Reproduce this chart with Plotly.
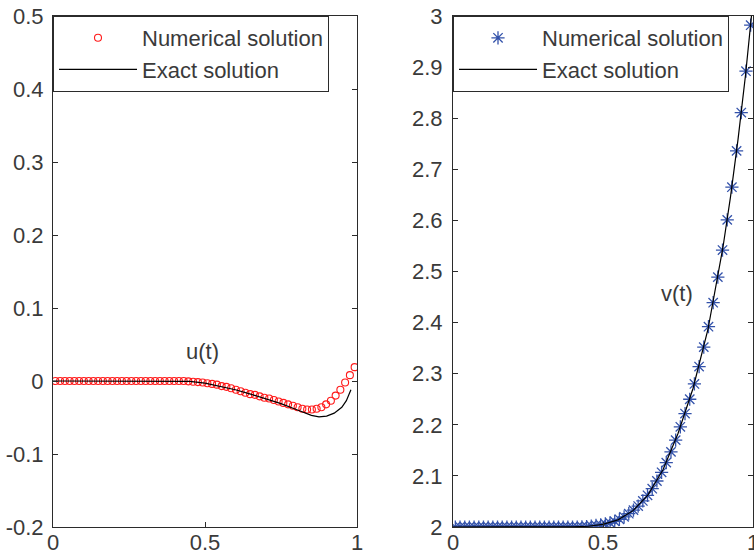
import plotly.graph_objects as go

# collocation points (numerical solution)
t_num = [0.0078, 0.0234, 0.0391, 0.0547, 0.0703, 0.0859, 0.1016, 0.1172,
         0.1328, 0.1484, 0.1641, 0.1797, 0.1953, 0.2109, 0.2266, 0.2422,
         0.2578, 0.2734, 0.2891, 0.3047, 0.3203, 0.3359, 0.3516, 0.3672,
         0.3828, 0.3984, 0.4141, 0.4297, 0.4453, 0.4609, 0.4766, 0.4922,
         0.5078, 0.5234, 0.5391, 0.5547, 0.5703, 0.5859, 0.6016, 0.6172,
         0.6328, 0.6484, 0.6641, 0.6797, 0.6953, 0.7109, 0.7266, 0.7422,
         0.7578, 0.7734, 0.7891, 0.8047, 0.8203, 0.8359, 0.8516, 0.8672,
         0.8828, 0.8984, 0.9141, 0.9297, 0.9453, 0.9609, 0.9766, 0.9922]

u_num = [0, 0, 0, 0, 0, 0, 0, 0, 0, 0, 0, 0, 0, 0, 0, 0, 0, 0, 0, 0,
         0, 0, 0, 0, 0, 0, 0, 0,
         -0.0005, -0.001, -0.0015, -0.002, -0.003, -0.004, -0.005, -0.007,
         -0.008, -0.010, -0.012, -0.014, -0.016, -0.018, -0.019, -0.021,
         -0.023, -0.024, -0.026, -0.028, -0.030, -0.032, -0.034, -0.036,
         -0.038, -0.039, -0.039, -0.038, -0.036, -0.032, -0.027, -0.020,
         -0.012, -0.002, 0.008, 0.019]

v_num = [2.0, 2.0, 2.0, 2.0, 2.0, 2.0, 2.0, 2.0, 2.0, 2.0, 2.0, 2.0, 2.0,
         2.0, 2.0, 2.0, 2.0, 2.0, 2.0, 2.0, 2.0, 2.0, 2.0, 2.0, 2.0, 2.0, 2.0,
         2.0005, 2.001, 2.002, 2.003, 2.004, 2.006, 2.008, 2.011, 2.015,
         2.020, 2.026, 2.033, 2.041, 2.051, 2.062, 2.075, 2.090, 2.107,
         2.126, 2.147, 2.170, 2.196, 2.222, 2.250, 2.280, 2.314, 2.352,
         2.392, 2.439, 2.489, 2.542, 2.601, 2.665, 2.736, 2.811, 2.892, 2.982]

# exact solutions
t_u_exact = [0, 0.1, 0.2, 0.3, 0.4, 0.45, 0.5, 0.55, 0.6, 0.65, 0.7, 0.75,
             0.8, 0.825, 0.85, 0.875, 0.9, 0.925, 0.95, 0.965, 0.98]
u_exact = [0, 0, 0, 0, 0, -0.0005, -0.003, -0.007, -0.012, -0.018, -0.024,
           -0.031, -0.039, -0.043, -0.047, -0.049, -0.048, -0.044, -0.036,
           -0.027, -0.012]

t_v_exact = [0, 0.1, 0.2, 0.3, 0.4, 0.45, 0.5, 0.55, 0.6, 0.65, 0.7, 0.75,
             0.8, 0.85, 0.9, 0.925, 0.95, 0.975, 1.0]
v_exact = [2.0, 2.0, 2.0, 2.0, 2.0003, 2.0015, 2.005, 2.014, 2.032, 2.063,
           2.112, 2.183, 2.271, 2.387, 2.548, 2.646, 2.758, 2.884, 3.03]

u_ticks = [-0.2, -0.1, 0, 0.1, 0.2, 0.3, 0.4, 0.5]
u_ticktext = ["-0.2", "-0.1", "0", "0.1", "0.2", "0.3", "0.4", "0.5"]
v_ticks = [2.0, 2.1, 2.2, 2.3, 2.4, 2.5, 2.6, 2.7, 2.8, 2.9, 3.0]
v_ticktext = ["2", "2.1", "2.2", "2.3", "2.4", "2.5", "2.6", "2.7", "2.8", "2.9", "3"]
x_ticks = [0, 0.5, 1]
x_ticktext = ["0", "0.5", "1"]

W, H = 754, 558
FONT = "Liberation Sans, Arial, sans-serif"
TXT = "#3a3a3a"
AX = "#2b2b2b"
FS = 22


def px_x(p):
    return p / W


def px_y(p):
    return 1 - p / H


fig = go.Figure()
fig.add_trace(go.Scatter(x=t_num, y=u_num, mode="markers", name="Numerical solution",
                         marker=dict(symbol="circle-open", size=7, color="#ff1a1a",
                                     line=dict(width=1.1, color="#ff1a1a")),
                         xaxis="x", yaxis="y", legend="legend"))
fig.add_trace(go.Scatter(x=t_u_exact, y=u_exact, mode="lines", name="Exact solution",
                         line=dict(color="#000000", width=1.2),
                         xaxis="x", yaxis="y", legend="legend"))
fig.add_trace(go.Scatter(x=t_num, y=v_num, mode="markers", name="Numerical solution",
                         marker=dict(symbol="asterisk-open", size=11, color="#3352aa",
                                     line=dict(width=1.3, color="#3352aa")),
                         xaxis="x2", yaxis="y2", legend="legend2"))
fig.add_trace(go.Scatter(x=t_v_exact, y=v_exact, mode="lines", name="Exact solution",
                         line=dict(color="#000000", width=1.2),
                         xaxis="x2", yaxis="y2", legend="legend2"))

ydom = [px_y(527), px_y(16)]
axis_common = dict(showline=True, linecolor=AX, linewidth=1, mirror="ticks",
                   ticks="inside", ticklen=5, tickcolor=AX, tickwidth=1,
                   showgrid=False, zeroline=False, automargin=False,
                   ticklabeloverflow="allow",
                   tickfont=dict(family=FONT, size=FS, color=TXT))

legend_common = dict(bgcolor="white", bordercolor=AX, borderwidth=1,
                     font=dict(family=FONT, size=FS, color=TXT),
                     xanchor="left", yanchor="top", itemwidth=78,
                     tracegroupgap=0)

fig.update_layout(
    width=W, height=H,
    margin=dict(l=0, r=0, t=0, b=0, autoexpand=False),
    paper_bgcolor="white", plot_bgcolor="white",
    showlegend=True,
    xaxis=dict(domain=[px_x(53), px_x(357)], range=[0, 1], tickvals=x_ticks,
               ticktext=x_ticktext, anchor="y", ticklabelstandoff=-4, **axis_common),
    yaxis=dict(domain=ydom, range=[-0.2, 0.5], tickvals=u_ticks,
               ticktext=u_ticktext, anchor="x", ticklabelstandoff=4, **axis_common),
    xaxis2=dict(domain=[px_x(453), px_x(753)], range=[0, 1], tickvals=x_ticks,
                ticktext=x_ticktext, anchor="y2", ticklabelstandoff=-4, **axis_common),
    yaxis2=dict(domain=ydom, range=[2, 3], tickvals=v_ticks,
                ticktext=v_ticktext, anchor="x2", ticklabelstandoff=5, **axis_common),
    legend=dict(x=px_x(53), y=px_y(16), **legend_common),
    legend2=dict(x=px_x(453), y=px_y(16), **legend_common),
    annotations=[
        dict(x=0.493, y=0.04, xref="x", yref="y", text="u(t)", showarrow=False,
             font=dict(family=FONT, size=FS, color=TXT)),
        dict(x=0.746, y=2.457, xref="x2", yref="y2", text="v(t)", showarrow=False,
             font=dict(family=FONT, size=FS, color=TXT)),
    ],
)

fig.write_html("out.html", config={"displayModeBar": False},
               post_script="document.body.style.margin='0px';")
